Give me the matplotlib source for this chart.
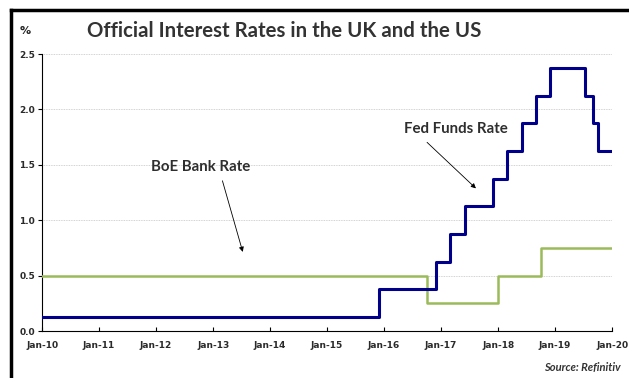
import pandas as pd
import matplotlib
matplotlib.use('Agg')
import matplotlib.pyplot as plt
import matplotlib.dates as mdates
from matplotlib.lines import Line2D

# data: step changes (value holds until the next date)
fed_dates = ['2010-01-01', '2015-12-01', '2016-12-01', '2017-03-01', '2017-06-01',
             '2017-12-01', '2018-03-01', '2018-06-01', '2018-09-01', '2018-12-01',
             '2019-07-15', '2019-09-01', '2019-10-01', '2020-01-01']
fed_rate = [0.125, 0.375, 0.625, 0.875, 1.125, 1.375, 1.625, 1.875, 2.125, 2.375,
            2.125, 1.875, 1.625, 1.625]

boe_dates = ['2010-01-01', '2016-10-01', '2018-01-01', '2018-10-01', '2020-01-01']
boe_rate = [0.5, 0.25, 0.5, 0.75, 0.75]

y_ticks = [0.0, 0.5, 1.0, 1.5, 2.0, 2.5]
x_years = list(range(2010, 2021))

fed_x = pd.to_datetime(fed_dates)
boe_x = pd.to_datetime(boe_dates)

fig = plt.figure(figsize=(6.29, 3.78), dpi=100)
ax = fig.add_axes([0.0668, 0.1243, 0.9062, 0.7328])

ax.step(boe_x, boe_rate, where='post', color='#9BBB59', lw=1.8, zorder=3)
ax.step(fed_x, fed_rate, where='post', color='#00008B', lw=2.2, zorder=4)

ax.set_xlim(pd.Timestamp('2010-01-01'), pd.Timestamp('2020-01-01'))
ax.set_ylim(0, 2.5)
ax.set_yticks(y_ticks)
ax.set_yticklabels([f'{v:.1f}' for v in y_ticks])
ax.set_xticks([pd.Timestamp(f'{y}-01-01') for y in x_years])
ax.xaxis.set_major_formatter(mdates.DateFormatter('%b-%y'))

for lab in ax.get_xticklabels() + ax.get_yticklabels():
    lab.set_fontweight('bold')
    lab.set_fontsize(6.5)
    lab.set_color('#2a2a2a')
ax.tick_params(axis='x', direction='in', length=3, pad=7)
ax.tick_params(axis='y', direction='out', length=3, pad=2)

ax.grid(axis='y', color='#c4c4c4', linestyle=(0, (1, 1)), lw=0.6)
ax.set_axisbelow(True)
for s in ['top', 'right']:
    ax.spines[s].set_visible(False)

ax.text(pd.Timestamp('2012-10-15'), 1.48, 'BoE Bank Rate', ha='center', va='center',
        fontsize=10.8, fontweight='bold', color='#2e2e2e', family='Lato')
ax.annotate('', xy=(pd.Timestamp('2013-07-15'), 0.69), xytext=(pd.Timestamp('2013-02-25'), 1.38),
            arrowprops=dict(arrowstyle='-|>', color='black', lw=0.6, mutation_scale=7))
ax.text(pd.Timestamp('2017-04-05'), 1.82, 'Fed Funds Rate', ha='center', va='center',
        fontsize=10.8, fontweight='bold', color='#2e2e2e', family='Lato')
ax.annotate('', xy=(pd.Timestamp('2017-08-25'), 1.27), xytext=(pd.Timestamp('2016-09-20'), 1.72),
            arrowprops=dict(arrowstyle='-|>', color='black', lw=0.6, mutation_scale=7))

fig.text(87 / 629, 1 - 31 / 378, 'Official Interest Rates in the UK and the US', ha='left', va='center',
         fontsize=14.7, fontweight='bold', color='#333333', family='Lato')
fig.text(20 / 629, 1 - 31 / 378, '%', ha='left', va='center', fontsize=8, fontweight='bold', color='#222222')
fig.text(621 / 629, 1 - 368 / 378, 'Source: Refinitiv', ha='right', va='center', fontsize=8,
         fontweight='bold', style='italic', color='#333333', family='Lato')

# frame lines (top and left)
fig.add_artist(Line2D([11 / 629, 1], [1 - 10 / 378, 1 - 10 / 378], color='black', lw=2.5))
fig.add_artist(Line2D([11 / 629, 11 / 629], [0, 1 - 10 / 378], color='black', lw=2.5))

fig.savefig('out.png', dpi=100)
